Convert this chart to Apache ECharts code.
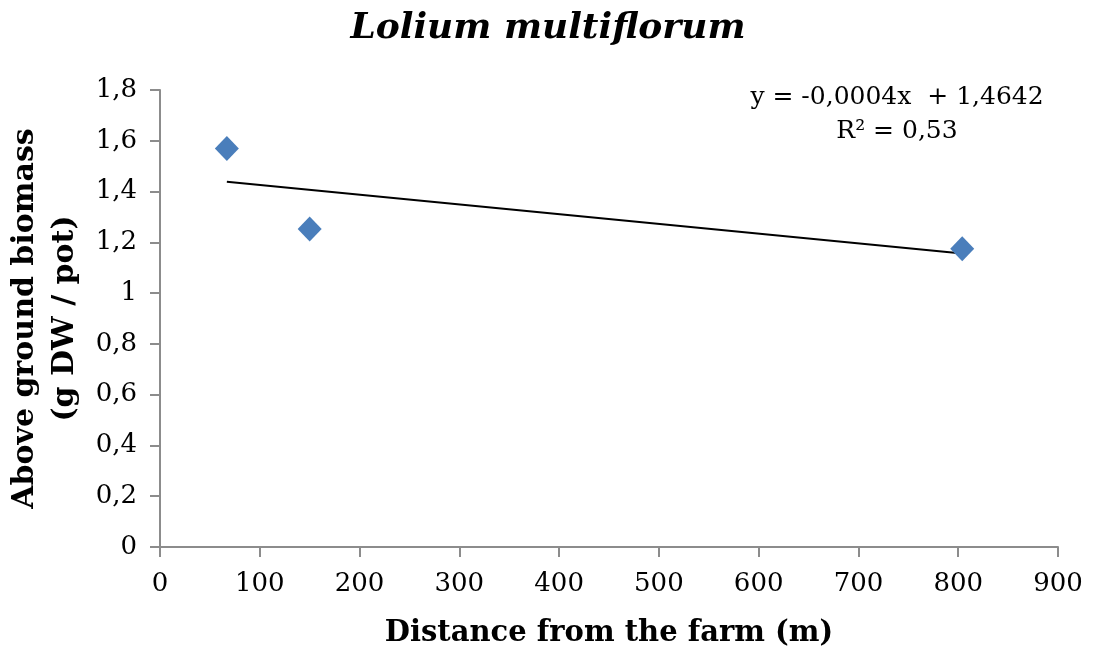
<!DOCTYPE html>
<html>
<head>
<meta charset="utf-8">
<script src="https://cdn.jsdelivr.net/npm/echarts@6/dist/echarts.min.js"></script>
<style>
  html, body { margin: 0; padding: 0; background: #fff; }
  #chart { width: 1093px; height: 647px; }
</style>
</head>
<body>
<div id="chart"></div>
<script>
// Distance from the farm (m) and above-ground biomass (g DW / pot)
const distances = [67, 150, 804];
const biomass = [1.57, 1.253, 1.175];

// Linear trend (slope shown rounded to 4 decimals in the equation label)
const trendSlope = -0.000383;
const trendIntercept = 1.4642;
const trendR2 = 0.53;

const xTicks = { min: 0, max: 900, interval: 100 };
const yTicks = { min: 0, max: 1.8, interval: 0.2 };

const fmt = (v, d) => v.toFixed(d).replace('.', ',');
const fmtTick = v => String(+v.toFixed(4)).replace('.', ',');

const xMin = Math.min(...distances), xMax = Math.max(...distances);
const trendPoints = [xMin, xMax].map(x => [x, trendIntercept + trendSlope * x]);

const serif = 'DejaVu Serif';
const axisGray = '#8c8c8c';

const chart = echarts.init(document.getElementById('chart'));
chart.setOption({
  animation: false,
  backgroundColor: '#ffffff',
  title: {
    text: 'Lolium multiflorum',
    left: 543, top: 6, textAlign: 'center',
    textStyle: { fontFamily: serif, fontStyle: 'italic', fontWeight: 'bold', fontSize: 36, color: '#000' }
  },
  grid: { left: 160, right: 35, top: 90, bottom: 100, containLabel: false, outerBoundsMode: 'none' },
  xAxis: {
    type: 'value', min: xTicks.min, max: xTicks.max, interval: xTicks.interval,
    name: 'Distance from the farm (m)', nameLocation: 'middle', nameGap: 72,
    nameTextStyle: { fontFamily: serif, fontWeight: 'bold', fontSize: 29, color: '#000' },
    axisLine: { show: true, onZero: false, lineStyle: { color: axisGray, width: 2 } },
    axisTick: { show: true, length: 10, lineStyle: { color: axisGray, width: 2 } },
    axisLabel: { fontFamily: serif, fontSize: 26, color: '#000', margin: 24, formatter: fmtTick },
    splitLine: { show: false }
  },
  yAxis: {
    type: 'value', min: yTicks.min, max: yTicks.max, interval: yTicks.interval,
    name: 'Above ground biomass\n(g DW / pot)', nameLocation: 'middle', nameGap: 72,
    nameTextStyle: { fontFamily: serif, fontWeight: 'bold', fontSize: 30, color: '#000', lineHeight: 40, align: 'center' },
    axisLine: { show: true, lineStyle: { color: axisGray, width: 2 } },
    axisTick: { show: true, length: 10, lineStyle: { color: axisGray, width: 2 } },
    axisLabel: { fontFamily: serif, fontSize: 26, color: '#000', margin: 23, formatter: fmtTick },
    splitLine: { show: false }
  },
  series: [
    {
      type: 'line',
      data: trendPoints,
      symbol: 'none',
      lineStyle: { color: '#000', width: 2 },
      silent: true,
      z: 2
    },
    {
      type: 'scatter',
      data: distances.map((x, i) => [x, biomass[i]]),
      symbol: 'diamond',
      symbolSize: [24, 25],
      itemStyle: { color: '#4a7ebb', opacity: 1 },
      z: 3
    }
  ],
  graphic: [
    {
      type: 'text', x: 897, y: 80,
      style: {
        text: 'y = -' + fmt(-trendSlope, 4) + 'x  + ' + fmt(trendIntercept, 4) + '\nR² = ' + fmt(trendR2, 2),
        fontFamily: serif, fontSize: 25, fill: '#000', align: 'center', lineHeight: 34
      }
    }
  ]
});
</script>
</body>
</html>
